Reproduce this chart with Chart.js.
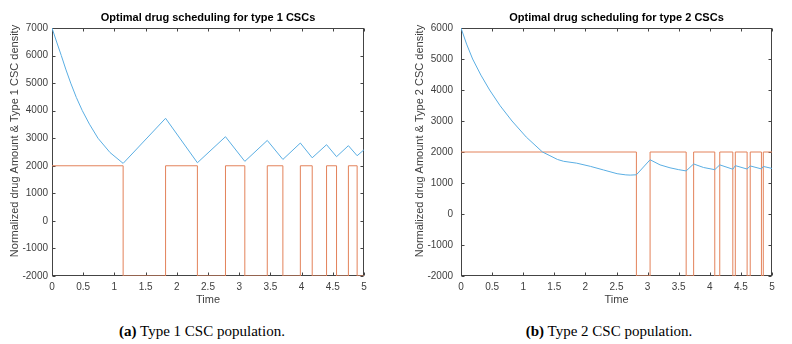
<!DOCTYPE html>
<html>
<head>
<meta charset="utf-8">
<script src="https://cdn.jsdelivr.net/npm/chart.js@4.4.1/dist/chart.umd.min.js"></script>
<style>
  html, body { margin: 0; padding: 0; background: #fff; }
  #wrap { position: relative; width: 792px; height: 344px; overflow: hidden; }
  .cv { position: absolute; top: 0; }
  .cap { position: absolute; top: 323px; font-family: "Liberation Serif", "Times New Roman", serif; font-size: 15px; color: #000; white-space: nowrap; transform: translateX(-50%); }
</style>
</head>
<body>
<div id="wrap">
  <div class="cv" style="left:0;width:400px;height:310px;"><canvas id="c1" width="400" height="310"></canvas></div>
  <div class="cv" style="left:400px;width:392px;height:310px;"><canvas id="c2" width="392" height="310"></canvas></div>
  <div class="cap" style="left:202px;"><b>(a)</b> Type 1 CSC population.</div>
  <div class="cap" style="left:609px;"><b>(b)</b> Type 2 CSC population.</div>
</div>
<script>
// ---------- Data ----------
const xTicks = [0, 0.5, 1, 1.5, 2, 2.5, 3, 3.5, 4, 4.5, 5];
const yTicks1 = [-2000, -1000, 0, 1000, 2000, 3000, 4000, 5000, 6000, 7000];
const yTicks2 = [-2000, -1000, 0, 1000, 2000, 3000, 4000, 5000, 6000];

const title1 = "Optimal drug scheduling for type 1 CSCs";
const title2 = "Optimal drug scheduling for type 2 CSCs";
const yTitle1 = "Normalized drug Amount & Type 1 CSC density";
const yTitle2 = "Normalized drug Amount & Type 2 CSC density";
const xTitle = "Time";

// Type 1: CSC density
const time1 = [0, 0.075, 0.149, 0.22, 0.30, 0.39, 0.486, 0.60, 0.737, 0.93, 1.14,
  1.82, 2.33, 2.78, 3.09, 3.45, 3.70, 3.98, 4.17, 4.40, 4.56, 4.75, 4.89, 5.0];
const density1 = [7000, 6490, 6000, 5510, 5000, 4480, 4000, 3510, 3000, 2480, 2087,
  3723, 2110, 3055, 2160, 2920, 2230, 2825, 2290, 2765, 2330, 2730, 2365, 2580];
// Type 1: drug schedule (switch times and level from that time on)
const drugTime1 = [0, 1.14, 1.82, 2.33, 2.78, 3.09, 3.45, 3.70, 3.98, 4.17, 4.40, 4.56, 4.75, 4.89, 5];
const drugLevel1 = [2000, -2000, 2000, -2000, 2000, -2000, 2000, -2000, 2000, -2000, 2000, -2000, 2000, -2000, -2000];

// Type 2: CSC density
const time2 = [0, 0.09, 0.187, 0.32, 0.46, 0.63, 0.82, 1.05, 1.31, 1.43, 1.55, 1.65, 1.86, 2.08, 2.29, 2.51, 2.65, 2.72, 2.82,
  3.04, 3.20, 3.36, 3.50, 3.62, 3.74, 3.90, 4.08, 4.16, 4.37, 4.41, 4.60, 4.65, 4.83, 4.86, 5.0];
const density2 = [6000, 5480, 5000, 4480, 4000, 3490, 3000, 2480, 2000, 1881, 1760, 1700, 1640, 1537, 1421, 1300, 1262, 1255, 1265,
  1750, 1585, 1490, 1430, 1390, 1614, 1500, 1430, 1585, 1445, 1560, 1450, 1550, 1455, 1535, 1470];
// Type 2: drug schedule
const drugTime2 = [0, 2.82, 3.04, 3.62, 3.74, 4.08, 4.16, 4.37, 4.41, 4.60, 4.65, 4.83, 4.86, 5];
const drugLevel2 = [2000, -2000, 2000, -2000, 2000, -2000, 2000, -2000, 2000, -2000, 2000, -2000, 2000, 2000];

// ---------- Styling ----------
const BLUE = '#5aaee3';
const RED = '#e3825a';
const AXIS = '#444444';
const TXT = '#404040';
const FONT = '"Liberation Sans", Arial, Helvetica, sans-serif';

const zip = (xs, ys) => xs.map((x, i) => ({ x: x, y: ys[i] }));

const matlabBox = {
  id: 'matlabBox',
  beforeDatasetsDraw(chart, args, opts) {
    const { ctx, chartArea: ca, scales } = chart;
    const L = Math.round(ca.left) + 0.5, R = Math.round(ca.right) - 0.5;
    const T = Math.round(ca.top) + 0.5, B = Math.round(ca.bottom) - 0.5;
    ctx.save();
    ctx.strokeStyle = AXIS;
    ctx.lineWidth = 1;
    ctx.strokeRect(L, T, R - L, B - T);
    const tl = 3;
    ctx.beginPath();
    scales.x.ticks.forEach(t => {
      const px = Math.round(scales.x.getPixelForValue(t.value)) + 0.5;
      ctx.moveTo(px, B); ctx.lineTo(px, B - tl);
      ctx.moveTo(px, T); ctx.lineTo(px, T + tl);
    });
    scales.y.ticks.forEach(t => {
      const py = Math.round(scales.y.getPixelForValue(t.value)) + 0.5;
      ctx.moveTo(L, py); ctx.lineTo(L + tl, py);
      ctx.moveTo(R, py); ctx.lineTo(R - tl, py);
    });
    ctx.stroke();
    ctx.restore();
  },
  afterDraw(chart, args, opts) {
    const { ctx, chartArea: ca } = chart;
    ctx.save();
    ctx.fillStyle = '#000';
    ctx.font = 'bold 11px ' + FONT;
    ctx.textAlign = 'center';
    ctx.textBaseline = 'middle';
    ctx.fillText(opts.title, (ca.left + ca.right) / 2, 18);
    ctx.fillStyle = TXT;
    ctx.font = '11px ' + FONT;
    ctx.translate(opts.yTitleX, (ca.top + ca.bottom) / 2 - 11);
    ctx.rotate(-Math.PI / 2);
    ctx.fillText(opts.yTitle, 0, 0);
    ctx.restore();
  }
};

function makeChart(id, t, dens, dt, dl, yTicks, yMax, title, yTitle, yWidth, tickPad, padRight, yTitleX) {
  return new Chart(document.getElementById(id), {
    type: 'line',
    data: {
      datasets: [
        { data: zip(t, dens), borderColor: BLUE, borderWidth: 1, pointRadius: 0, tension: 0, fill: false },
        { data: zip(dt, dl), borderColor: RED, borderWidth: 1, pointRadius: 0, stepped: true, fill: false }
      ]
    },
    options: {
      responsive: false,
      animation: false,
      events: [],
      layout: { padding: { top: 28, right: padRight, left: 0, bottom: 3 } },
      plugins: {
        legend: { display: false },
        tooltip: { enabled: false },
        title: { display: false },
        matlabBox: { title: title, yTitle: yTitle, yTitleX: yTitleX }
      },
      scales: {
        x: {
          type: 'linear', min: 0, max: 5,
          grid: { display: false, drawTicks: false }, border: { display: false },
          afterBuildTicks: s => { s.ticks = xTicks.map(v => ({ value: v })); },
          afterFit: s => { s.height = 31; },
          ticks: { color: TXT, font: { family: FONT, size: 10 }, padding: 5, maxRotation: 0, autoSkip: false,
                   callback: v => String(v) },
          title: { display: true, text: xTitle, color: TXT, font: { family: FONT, size: 11 }, padding: 0 }
        },
        y: {
          type: 'linear', min: -2000, max: yMax,
          grid: { display: false, drawTicks: false }, border: { display: false },
          afterBuildTicks: s => { s.ticks = yTicks.map(v => ({ value: v })); },
          afterFit: s => { s.width = yWidth; },
          ticks: { color: TXT, font: { family: FONT, size: 10 }, padding: tickPad, autoSkip: false,
                   callback: v => String(v) }
        }
      }
    },
    plugins: [matlabBox]
  });
}

makeChart('c1', time1, density1, drugTime1, drugLevel1, yTicks1, 7000, title1, yTitle1, 52, 4, 36, 15);
makeChart('c2', time2, density2, drugTime2, drugLevel2, yTicks2, 6000, title2, yTitle2, 61, 8, 20, 20);
</script>
</body>
</html>
